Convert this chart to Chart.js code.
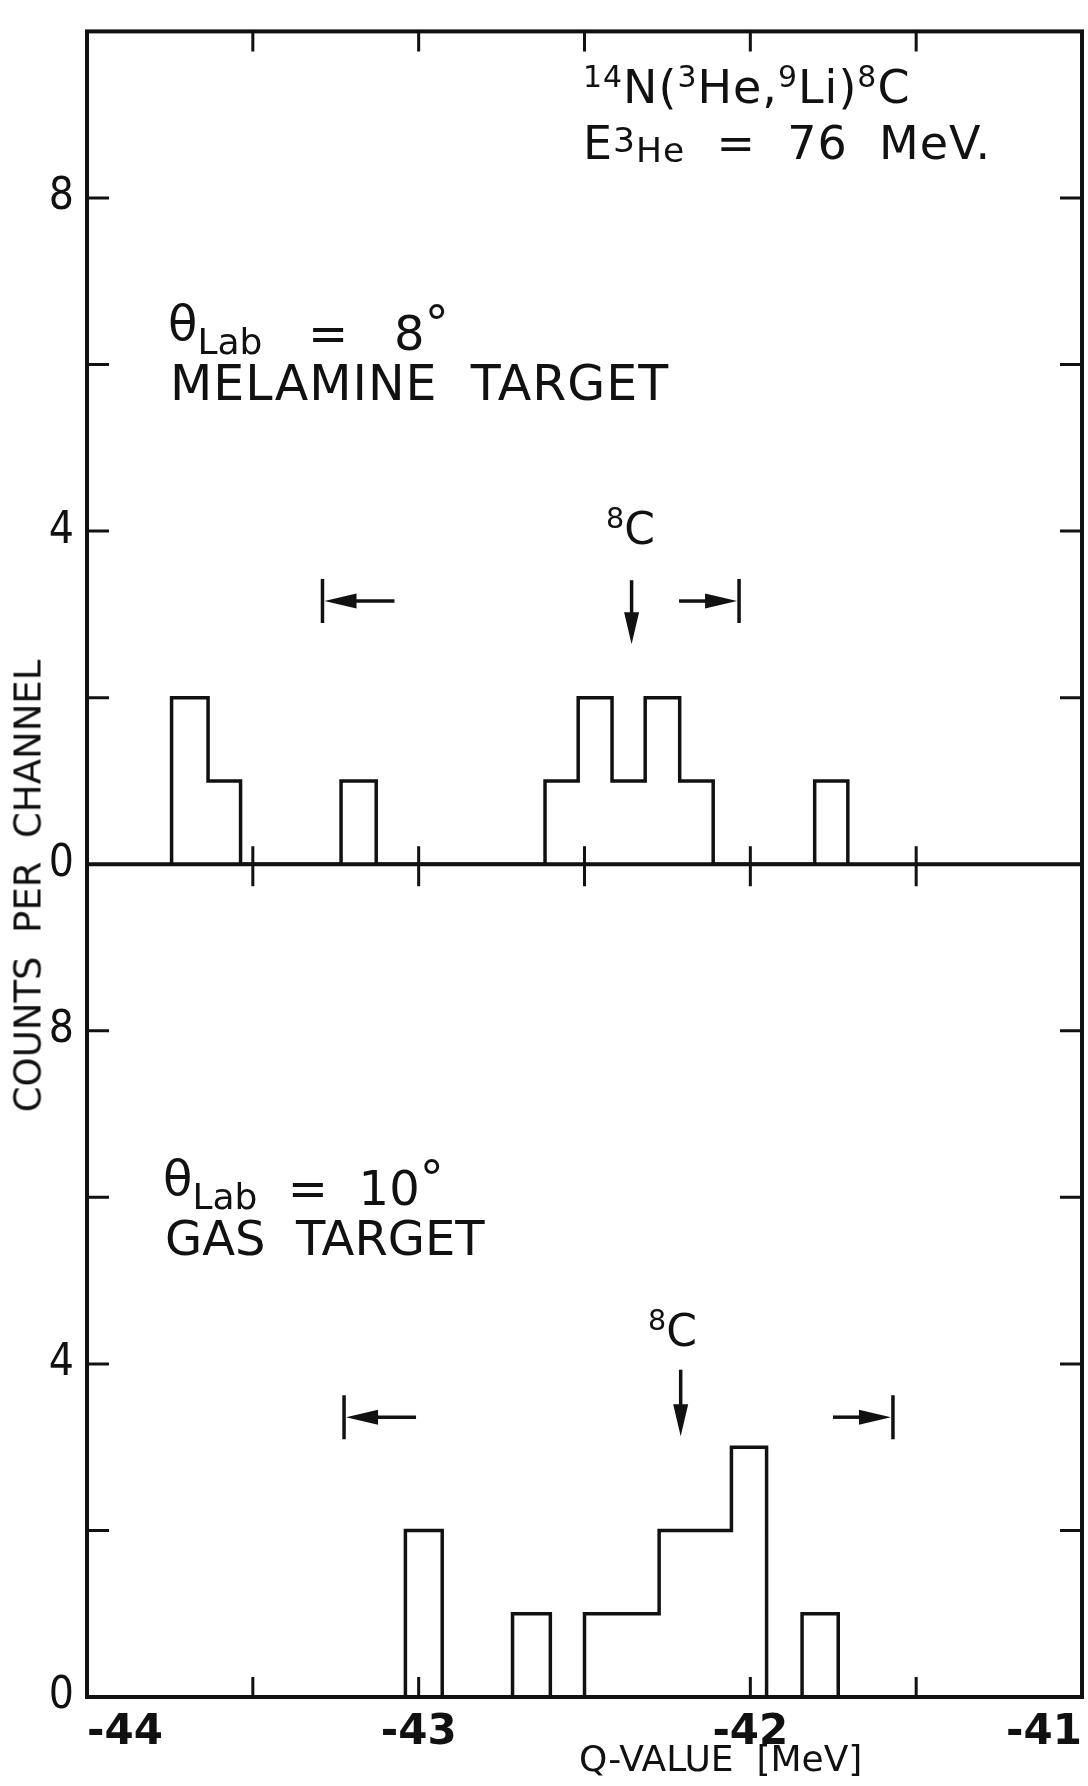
<!DOCTYPE html>
<html>
<head>
<meta charset="utf-8">
<title>14N(3He,9Li)8C Q-value spectra</title>
<script src="https://cdn.jsdelivr.net/npm/chart.js@4.4.1/dist/chart.umd.min.js"></script>
<style>
  html, body { margin: 0; padding: 0; background: #fff; }
  #wrap { position: relative; width: 1088px; height: 1786px; overflow: hidden; }
  .lbl { position: absolute; font-family: "DejaVu Sans", sans-serif; color: #111; white-space: pre; line-height: 1; }
  .sup { font-size: 0.65em; vertical-align: 0.55em; line-height: 0; }
  .sub { font-size: 0.75em; vertical-align: -0.1em; line-height: 0; }
  .raise { vertical-align: 0.2em; line-height: 0; }
</style>
</head>
<body>
<div id="wrap">
  <canvas id="spectrum"></canvas>

  <div class="lbl" style="left:583px; top:64px; font-size:46px; letter-spacing:1px;"><span class="sup">14</span>N(<span class="sup">3</span>He,<span class="sup">9</span>Li)<span class="sup">8</span>C</div>
  <div class="lbl" style="left:583px; top:120px; font-size:46px; letter-spacing:1px;">E<span class="sub"><span style="vertical-align:0.3em">3</span>He</span>  =  76  MeV.</div>

  <div class="lbl" style="left:168px; top:309px; font-size:48px;"><span class="raise">θ</span><span class="sub">Lab</span>   =   8<span class="raise">°</span></div>
  <div class="lbl" style="left:170px; top:359px; font-size:49px; letter-spacing:1px;">MELAMINE  TARGET</div>
  <div class="lbl" style="left:606px; top:507px; font-size:44px;"><span class="sup">8</span>C</div>

  <div class="lbl" style="left:163px; top:1164px; font-size:48px;"><span class="raise">θ</span><span class="sub">Lab</span>  =  10<span class="raise">°</span></div>
  <div class="lbl" style="left:165px; top:1214px; font-size:48px;">GAS  TARGET</div>
  <div class="lbl" style="left:648px; top:1309px; font-size:44px;"><span class="sup">8</span>C</div>

  <div class="lbl" style="left:28px; top:886px; font-size:37px; transform:translate(-50%,-50%) rotate(-90deg);">COUNTS  PER  CHANNEL</div>
  <div class="lbl" style="left:579px; top:1741px; font-size:36px;">Q-VALUE  [MeV]</div>
</div>

<script>
// Q-value tick marks (MeV) and count tick marks
const qTicks = [-43.5, -43, -42.5, -42, -41.5];
const countTicks = [2, 4, 6, 8];

// top panel: theta_lab = 8 deg, melamine target
const edgesTop = [-43.745, -43.635, -43.537, -43.234, -43.128, -42.619, -42.519, -42.417, -42.317, -42.213, -42.112, -41.806, -41.706];
const countsTop = [2, 1, 0, 1, 0, 1, 2, 1, 2, 1, 0, 1];

// bottom panel: theta_lab = 10 deg, gas target
const edgesBottom = [-43.040, -42.929, -42.717, -42.603, -42.500, -42.275, -42.057, -41.951, -41.844, -41.735];
const countsBottom = [2, 0, 1, 0, 1, 2, 3, 0, 1];

// expected 8C position and gate window [top, bottom]
const peakQ = [-42.358, -42.21];
const gateLow = [-43.29, -43.225];
const gateHigh = [-42.034, -41.57];

const ink = '#111';
const font = '"DejaVu Sans", sans-serif';

function stepPoints(edges, counts) {
    const pts = [{ x: edges[0], y: 0 }];
    counts.forEach((c, i) => pts.push({ x: edges[i], y: c }));
    pts.push({ x: edges[edges.length - 1], y: 0 });
    return pts;
}

function drawArrow(ctx, x0, y0, x1, y1) {
    const len = Math.hypot(x1 - x0, y1 - y0);
    const ux = (x1 - x0) / len, uy = (y1 - y0) / len;
    const head = 32, half = 7.5;
    const bx = x1 - ux * head, by = y1 - uy * head;
    ctx.beginPath();
    ctx.moveTo(x0, y0);
    ctx.lineTo(bx + ux * 4, by + uy * 4);
    ctx.stroke();
    ctx.beginPath();
    ctx.moveTo(x1, y1);
    ctx.lineTo(bx - uy * half, by + ux * half);
    ctx.lineTo(bx + uy * half, by - ux * half);
    ctx.closePath();
    ctx.fill();
}

const framePlugin = {
    id: 'frame',
    afterDatasetsDraw(chart, args, opts) {
        const { ctx, chartArea: a, scales } = chart;
        const x = scales.x;
        const mid = scales.yTop.getPixelForValue(0);
        ctx.save();
        ctx.strokeStyle = ink;
        ctx.fillStyle = ink;
        ctx.lineWidth = 4;
        ctx.strokeRect(a.left, a.top, a.right - a.left, a.bottom - a.top);
        ctx.beginPath();
        ctx.moveTo(a.left, mid);
        ctx.lineTo(a.right, mid);
        ctx.stroke();

        ctx.lineWidth = 3;
        ctx.beginPath();
        ['yTop', 'y'].forEach(id => {
            countTicks.forEach(v => {
                const py = scales[id].getPixelForValue(v);
                ctx.moveTo(a.left, py); ctx.lineTo(a.left + 22, py);
                ctx.moveTo(a.right, py); ctx.lineTo(a.right - 22, py);
            });
        });
        qTicks.forEach(q => {
            const px = x.getPixelForValue(q);
            ctx.moveTo(px, a.top); ctx.lineTo(px, a.top + 20);
            ctx.moveTo(px, mid - 18); ctx.lineTo(px, mid + 22);
            ctx.moveTo(px, a.bottom); ctx.lineTo(px, a.bottom - 20);
        });
        ctx.stroke();

        opts.panels.forEach((p, i) => {
            const ys = scales[p.axis];
            const lvl = ys.getPixelForValue(p.level);
            const lo = x.getPixelForValue(gateLow[i]);
            const hi = x.getPixelForValue(gateHigh[i]);
            ctx.lineWidth = 3.5;
            ctx.beginPath();
            ctx.moveTo(lo, lvl - 22); ctx.lineTo(lo, lvl + 22);
            ctx.moveTo(hi, lvl - 22); ctx.lineTo(hi, lvl + 22);
            ctx.stroke();
            drawArrow(ctx, lo + 72, lvl, lo + 2, lvl);
            drawArrow(ctx, hi - 60, lvl, hi - 2, lvl);
            const pk = x.getPixelForValue(peakQ[i]);
            drawArrow(ctx, pk, ys.getPixelForValue(p.arrowFrom), pk, ys.getPixelForValue(p.arrowTo));
        });
        ctx.restore();
    }
};

const yLabel = v => {
    const c = v % 10;
    if (v >= 20) return '';
    return (c === 0 || c === 4 || c === 8) ? String(c) : '';
};

new Chart(document.getElementById('spectrum'), {
    type: 'line',
    data: {
        datasets: [
            {
                label: 'θLab = 8°, melamine target',
                data: stepPoints(edgesTop, countsTop),
                yAxisID: 'yTop',
                stepped: true,
                borderColor: ink,
                borderWidth: 3.5,
                pointRadius: 0,
                fill: false
            },
            {
                label: 'θLab = 10°, gas target',
                data: stepPoints(edgesBottom, countsBottom),
                yAxisID: 'y',
                stepped: true,
                borderColor: ink,
                borderWidth: 3.5,
                pointRadius: 0,
                fill: false
            }
        ]
    },
    options: {
        responsive: true,
        maintainAspectRatio: false,
        animation: false,
        layout: { padding: { top: 18, right: 6, left: 0, bottom: 0 } },
        plugins: {
            legend: { display: false },
            tooltip: { enabled: false },
            frame: {
                panels: [
                    { axis: 'yTop', level: 3.16, arrowFrom: 3.41, arrowTo: 2.64 },
                    { axis: 'y', level: 3.36, arrowFrom: 3.93, arrowTo: 3.13 }
                ]
            }
        },
        scales: {
            x: {
                type: 'linear',
                min: -44,
                max: -41,
                grid: { display: false },
                border: { display: false },
                ticks: {
                    stepSize: 1,
                    align: 'inner',
                    padding: 3,
                    color: ink,
                    font: { family: font, size: 42, weight: 'bold' },
                    callback: v => String(v)
                },
                afterFit: s => { s.height = 89; }
            },
            y: {
                type: 'linear',
                position: 'left',
                min: 0,
                max: 20,
                grid: { display: false },
                border: { display: false },
                ticks: {
                    stepSize: 2,
                    autoSkip: false,
                    padding: 5,
                    color: ink,
                    font: { family: '"DejaVu Sans Condensed", "DejaVu Sans", sans-serif', size: 44 },
                    callback: yLabel
                },
                afterFit: s => { s.width = 87; }
            },
            yTop: {
                type: 'linear',
                display: false,
                min: -10,
                max: 10
            }
        }
    },
    plugins: [framePlugin]
});
</script>
</body>
</html>
